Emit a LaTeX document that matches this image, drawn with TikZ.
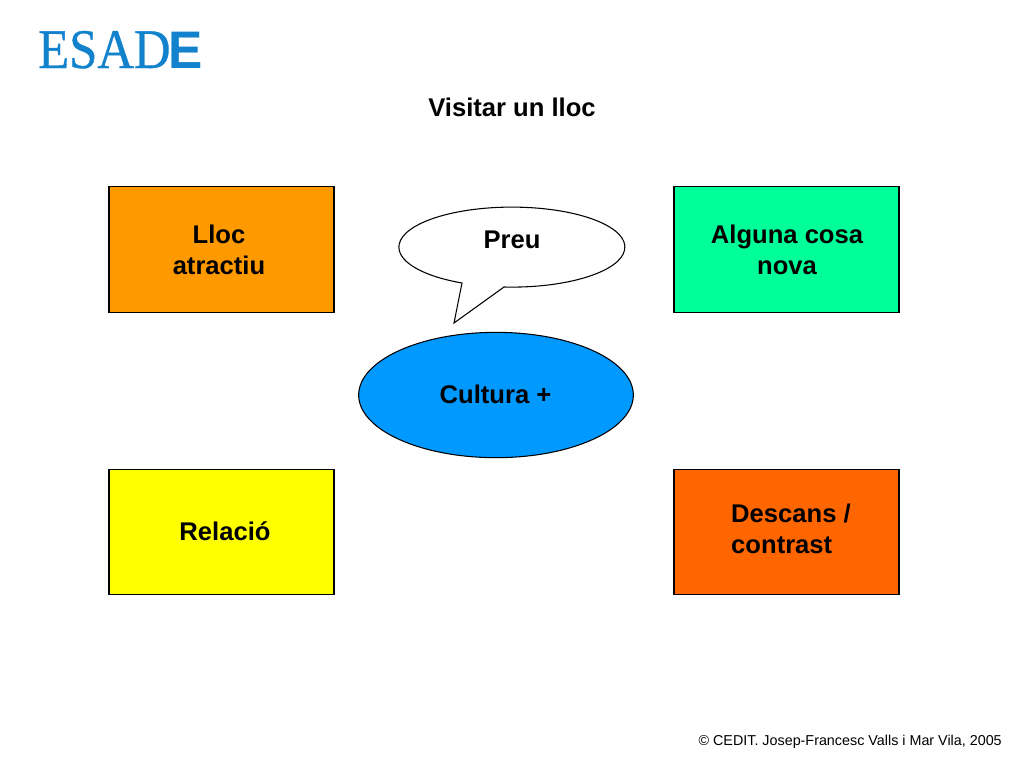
\documentclass[tikz,border=0pt]{standalone}
\usepackage{fontspec}
\setmainfont{Liberation Sans}
\newfontfamily\logoserif[FakeBold=0.6]{Liberation Serif}
\usetikzlibrary{shapes.geometric}
\definecolor{logoblue}{RGB}{18,130,205}
\definecolor{boxorange}{RGB}{255,153,0}
\definecolor{boxgreen}{RGB}{0,255,153}
\definecolor{boxyellow}{RGB}{255,255,0}
\definecolor{boxred}{RGB}{255,102,0}
\definecolor{ovalblue}{RGB}{0,153,255}
\tikzset{
  x=0.75pt,y=-0.75pt,
  card/.style={draw=black,line width=0.8pt,minimum width=168.75pt,minimum height=94pt,inner sep=0pt},
  label/.style={font=\bfseries\fontsize{19.2}{23.3}\selectfont,inner sep=0pt,align=center},
  footer/.style={font=\fontsize{10.75}{12}\selectfont,inner sep=0pt,anchor=east},
}
\begin{document}
\begin{tikzpicture}
\useasboundingbox (0,0) rectangle (1024,768);
\fill[white] (0,0) rectangle (1024,768);
% logo
\node[anchor=base west,inner sep=0pt,text=logoblue,xscale=0.905,font=\logoserif\fontsize{42}{42}\selectfont] (logoa) at (38,68) {ESAD};
\node[anchor=base west,inner sep=0pt,text=logoblue,xscale=1.0,yscale=1.03,font=\bfseries\fontsize{38.5}{42}\selectfont] (logob) at (168.5,68) {E};
% title
\node[label] (title) at (512,107) {Visitar un lloc};
% boxes
\node[card,fill=boxorange] (lloc) at (221.5,249.5) {};
\node[card,fill=boxgreen] (nova) at (786.5,249.5) {};
\node[card,fill=boxyellow] (rel) at (221.5,532) {};
\node[card,fill=boxred] (desc) at (786.5,532) {};
\node[label] (lloct) at (219,249.5) {Lloc\\atractiu};
\node[label] (novat) at (787,249.5) {Alguna cosa\\nova};
\node[label] (relt) at (225,531) {Relació};
\node[label,align=left] (desct) at (791,528.5) {Descans /\\contrast};
% bubble
\draw[fill=white,line width=0.8pt,line join=miter] (504,287)
  arc[start angle=94,delta angle=-337.8,x radius=113,y radius=40]
  -- (454,323) -- cycle;
\node[label] (preu) at (512,240) {Preu};
% oval
\node[ellipse,draw=black,fill=ovalblue,line width=0.8pt,minimum width=206pt,minimum height=94pt,inner sep=0pt] (cult) at (496,395) {};
\node[label] (cultt) at (495.5,394) {Cultura +};
% footer
\node[footer] (foot) at (1002,742) {© CEDIT. Josep-Francesc Valls i Mar Vila, 2005};
\end{tikzpicture}
\end{document}
